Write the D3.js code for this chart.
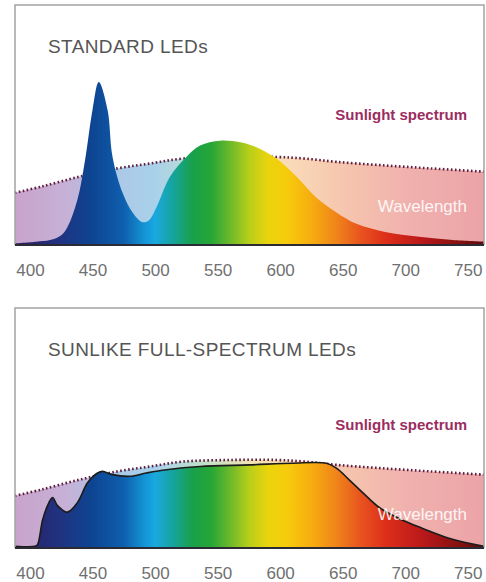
<!DOCTYPE html>
<html>
<head>
<meta charset="utf-8">
<script src="https://cdn.jsdelivr.net/npm/d3@7"></script>
<style>
  body { margin: 0; background: #fff; }
  svg { display: block; font-family: "Liberation Sans", Arial, Helvetica, sans-serif; }
</style>
</head>
<body>
<div id="chart"></div>
<script>
// wavelength ticks (nm)
const tickValues = [400, 450, 500, 550, 600, 650, 700, 750];

// sunlight reference curve [nm, relative intensity]
const sunlight = [
  [388, 32], [410, 36], [440, 42], [470, 47], [496, 50], [522, 53], [560, 54],
  [597, 54], [620, 53], [645, 51], [680, 49], [720, 47], [763, 45]
];

// standard white LED (blue pump + phosphor)
const standardLed = [
  [388, 1], [405, 2], [416, 3], [425, 6], [430, 11], [438, 28], [444, 52], [450, 83],
  [455, 100], [462, 83], [466, 54], [474, 32], [482, 20], [490, 14], [495, 15],
  [501, 23], [512, 42], [525, 54], [536, 61], [552, 64], [568, 63], [581, 60],
  [597, 53], [613, 42], [629, 29], [645, 20], [661, 13], [684, 8], [711, 5],
  [738, 3], [763, 2]
];

// sunlike full-spectrum LED
const sunlikeLed = [
  [388, 1], [404, 1], [406, 2], [410, 17], [414, 26], [418, 31], [422, 26],
  [430, 22], [438, 28], [446, 40], [454, 46], [458, 47], [466, 45], [480, 44],
  [493, 46], [509, 48], [536, 50], [576, 51], [610, 52], [637, 52], [645, 49],
  [655, 42], [666, 34], [679, 25], [698, 17], [714, 12], [735, 6], [763, 1]
];

// colour of the spectrum by wavelength
const spectrumStops = [
  [388, "#2b1d5c"], [420, "#22307e"], [450, "#0d4592"], [475, "#0f5fae"],
  [492, "#1496d6"], [500, "#1aa8df"], [515, "#15a49a"], [530, "#19a04a"],
  [545, "#26a636"], [560, "#6cb92a"], [575, "#b7ce1a"], [590, "#e9d40e"],
  [605, "#f7cc0c"], [625, "#f6ad10"], [645, "#f0841a"], [665, "#e8521f"],
  [685, "#dd2e1a"], [715, "#b8181a"], [745, "#821010"], [763, "#5e0b0b"]
];
const pastelStops = [
  [388, "#c9a3cb"], [430, "#c6b1d7"], [465, "#abc7e6"], [500, "#a9d1ea"],
  [540, "#c2e0c8"], [580, "#f4e3b2"], [610, "#f9d9b8"], [650, "#f6c6ae"],
  [700, "#f0b2ae"], [763, "#eca3a7"]
];

const width = 486, height = 582;

const panels = [
  { title: "STANDARD LEDs", led: standardLed, outline: false,
    boxTop: 5, base: 245, titleY: 53, sunY: 120, waveY: 212 },
  { title: "SUNLIKE FULL-SPECTRUM LEDs", led: sunlikeLed, outline: true,
    boxTop: 308, base: 548, titleY: 356, sunY: 430, waveY: 520 }
];

const x = d3.scaleLinear().domain([388, 763]).range([15, 484]);

const svg = d3.select("#chart").append("svg")
    .attr("width", width)
    .attr("height", height);

const defs = svg.append("defs");

function addGradient(id, stops) {
  defs.append("linearGradient")
      .attr("id", id)
      .attr("gradientUnits", "userSpaceOnUse")
      .attr("x1", x(388)).attr("x2", x(763))
      .attr("y1", 0).attr("y2", 0)
    .selectAll("stop")
    .data(stops)
    .join("stop")
      .attr("offset", d => (x(d[0]) - x(388)) / (x(763) - x(388)))
      .attr("stop-color", d => d[1]);
}
addGradient("spectrum", spectrumStops);
addGradient("pastel", pastelStops);

panels.forEach(function(p) {
  const y = d3.scaleLinear().domain([0, 100]).range([p.base, p.base - 163]);
  const g = svg.append("g");

  const curve = d3.curveCatmullRom.alpha(0.5);
  const area = d3.area()
      .x(d => x(d[0]))
      .y0(p.base)
      .y1(d => Math.min(p.base, y(d[1])))
      .curve(curve);
  const line = d3.line()
      .x(d => x(d[0]))
      .y(d => y(d[1]))
      .curve(curve);

  // pale sunlight area
  g.append("path")
      .datum(sunlight)
      .attr("d", area)
      .attr("fill", "url(#pastel)");

  // dotted sunlight outline
  g.append("path")
      .datum(sunlight)
      .attr("d", line)
      .attr("fill", "none")
      .attr("stroke", "#5e2040")
      .attr("stroke-width", 2.6)
      .attr("stroke-dasharray", "1.6,2.4");

  // LED spectrum
  g.append("path")
      .datum(p.led)
      .attr("d", area)
      .attr("fill", "url(#spectrum)");

  if (p.outline) {
    g.append("path")
        .datum(p.led)
        .attr("d", line)
        .attr("fill", "none")
        .attr("stroke", "#1c1c1c")
        .attr("stroke-width", 1.6);
  }

  // frame: left, top, right
  g.append("path")
      .attr("d", `M${x(388)},${p.base}V${p.boxTop}H${x(763)}V${p.base}`)
      .attr("fill", "none")
      .attr("stroke", "#a3a3a3")
      .attr("stroke-width", 1.5);

  // baseline
  g.append("line")
      .attr("x1", x(388)).attr("x2", x(763))
      .attr("y1", p.base).attr("y2", p.base)
      .attr("stroke", "#2b2b35")
      .attr("stroke-width", 2);

  const axis = g.append("g")
      .attr("transform", `translate(0,${p.base})`)
      .call(d3.axisBottom(x).tickValues(tickValues).tickSize(0).tickPadding(19));
  axis.select(".domain").remove();
  axis.selectAll("text")
      .attr("fill", "#707070")
      .style("font-size", "17px")
      .style("font-family", "'Liberation Sans', Arial, sans-serif");

  g.append("text")
      .attr("x", 48)
      .attr("y", p.titleY)
      .attr("fill", "#555")
      .style("font-size", "19px")
      .style("letter-spacing", "0.4px")
      .text(p.title);

  g.append("text")
      .attr("x", 467)
      .attr("y", p.sunY)
      .attr("text-anchor", "end")
      .attr("fill", "#9b2d5f")
      .style("font-size", "15px")
      .style("font-weight", "bold")
      .text("Sunlight spectrum");

  g.append("text")
      .attr("x", 467)
      .attr("y", p.waveY)
      .attr("text-anchor", "end")
      .attr("fill", "#fff")
      .attr("fill-opacity", 0.9)
      .style("font-size", "17px")
      .text("Wavelength");
});
</script>
</body>
</html>
